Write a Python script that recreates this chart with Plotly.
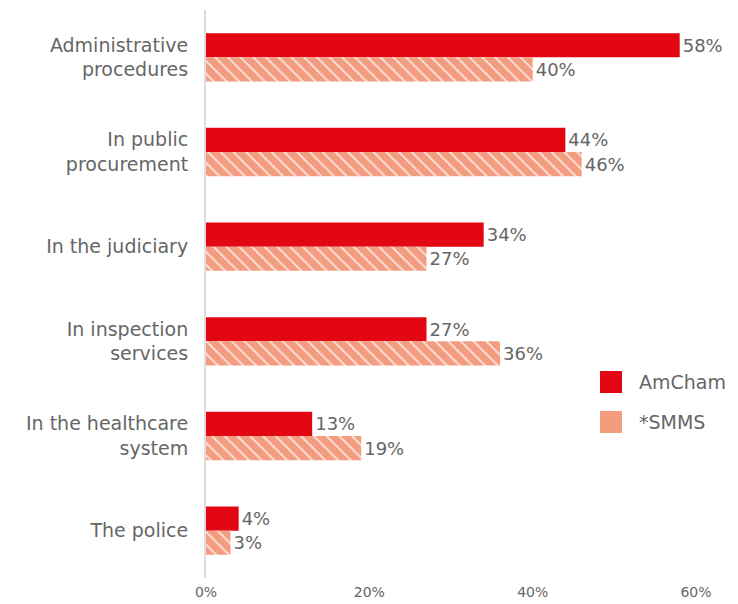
import plotly.graph_objects as go

categories = [
    "Administrative<br>procedures",
    "In public<br>procurement",
    "In the judiciary",
    "In inspection<br>services",
    "In the healthcare<br>system",
    "The police",
]
amcham = [58, 44, 34, 27, 13, 4]
smms = [40, 46, 27, 36, 19, 3]
x_ticks = [0, 20, 40, 60]
x_tick_labels = ["0%", "20%", "40%", "60%"]

RED = "#E30613"
SALMON = "#F39C7F"
GREY = "#666666"
FONT = "DejaVu Sans, sans-serif"

W, H = 738, 604
ML, MR, MT, MB = 206, 24, 10, 26

fig = go.Figure()

fig.add_trace(go.Bar(
    y=categories, x=amcham, orientation="h", name="AmCham",
    marker=dict(color=RED, line=dict(width=0)),
    text=[f"{v}%" for v in amcham], textposition="outside",
    textfont=dict(size=18, color=GREY, family=FONT),
    cliponaxis=False, showlegend=False,
))
fig.add_trace(go.Bar(
    y=categories, x=smms, orientation="h", name="*SMMS",
    marker=dict(
        color=SALMON, line=dict(width=0),
        pattern=dict(shape="\\", bgcolor=SALMON, fgcolor="white",
                     fgopacity=0.75, size=9, solidity=0.2, fillmode="replace"),
    ),
    text=[f"{v}%" for v in smms], textposition="outside",
    textfont=dict(size=18, color=GREY, family=FONT),
    cliponaxis=False, showlegend=False,
))

# hand-drawn legend with larger swatches
pw = W - ML - MR
ph = H - MT - MB

def px_x(px):
    return (px - ML) / pw

def px_y(py):
    return 1 - (py - MT) / ph

legend_items = [("AmCham", RED, 382), ("*SMMS", SALMON, 422)]
for label, color, cy in legend_items:
    fig.add_shape(type="rect", xref="paper", yref="paper",
                  x0=px_x(600), x1=px_x(622), y0=px_y(cy + 11), y1=px_y(cy - 11),
                  fillcolor=color, line=dict(width=0))
    fig.add_annotation(xref="paper", yref="paper", x=px_x(637), y=px_y(cy),
                       text=label, showarrow=False, xanchor="left", yanchor="middle",
                       font=dict(size=19, color=GREY, family=FONT))

fig.update_layout(
    width=W, height=H,
    margin=dict(l=ML, r=MR, t=MT, b=MB, autoexpand=False),
    paper_bgcolor="white", plot_bgcolor="white",
    barmode="group", bargap=0.49, bargroupgap=0,
    font=dict(family=FONT, color=GREY),
    xaxis=dict(range=[0, 62.2], tickvals=x_ticks, ticktext=x_tick_labels,
               showgrid=False, zeroline=False, showline=False,
               automargin=False, ticklabelstandoff=4,
               tickfont=dict(size=14, color=GREY, family=FONT)),
    yaxis=dict(autorange="reversed", showgrid=False, zeroline=False,
               showline=True, linecolor="#dddddd", linewidth=2,
               automargin=False, ticks="", ticklabelstandoff=12,
               tickfont=dict(size=19, color=GREY, family=FONT)),
)

fig.write_html("out.html")
